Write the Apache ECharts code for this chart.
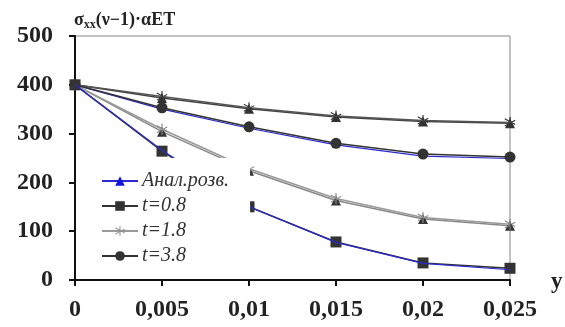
<!DOCTYPE html>
<html>
<head>
<meta charset="utf-8">
<script src="https://cdn.jsdelivr.net/npm/echarts@6/dist/echarts.min.js"></script>
<style>html,body{margin:0;padding:0;background:#fff}#c{width:565px;height:327px}</style>
</head>
<body>
<div id="c"></div>
<script>
var xValues = [0, 0.005, 0.01, 0.015, 0.02, 0.025];
var yTicks = [0, 100, 200, 300, 400, 500];
// analytic solutions (Анал.розв.)
var analBottom = [400, 266, 150, 77, 34, 21];
var analSecond = [400, 350, 311, 277, 254, 249];
var analThird = [400, 304, 224, 163, 125, 111];
var analTop = [400, 373, 351, 334, 325, 321];
// numeric solutions
var t08 = [400, 264, 150, 78, 35, 24];
var t18 = [400, 309, 228, 167, 128, 114];
var t18top = [400, 376, 353, 336, 327, 323];
var t38 = [400, 353, 314, 280, 258, 252];

function pts(arr) { return xValues.map(function (x, i) { return [x, arr[i]]; }); }
var star = 'path://M9,0h2v20h-2z M0.5,4.3l1,-1.7l18,10.4l-1,1.7z M0.5,15.7l1,1.7l18,-10.4l-1,-1.7z';
var serif = 'Liberation Serif';

var chart = echarts.init(document.getElementById('c'));
chart.setOption({
  animation: false,
  grid: { left: 75, right: 55, top: 36, bottom: 47, show: true, borderColor: '#888', borderWidth: 1 },
  title: {
    left: 69, top: 5,
    text: '{a|σ}{s|xx}{a|(ν−1)·αET}',
    textStyle: { rich: {
      a: { fontFamily: serif, fontSize: 18, fontWeight: 'bold', color: '#222' },
      s: { fontFamily: serif, fontSize: 12, fontWeight: 'bold', color: '#222', verticalAlign: 'bottom', padding: [9, 0, 0, 0] }
    } }
  },
  graphic: [{ type: 'text', left: 551, top: 271, style: { text: 'y', font: 'bold 23px "Liberation Serif"', fill: '#222' } }],
  legend: {
    left: 95, top: 158, orient: 'vertical', itemWidth: 36, itemHeight: 12, itemGap: 5,
    backgroundColor: '#fff', padding: [13, 21, 6, 6], z: 20,
    data: ['Анал.розв.', 't=0.8', 't=1.8', 't=3.8'],
    textStyle: { fontFamily: serif, fontSize: 20, fontStyle: 'italic', color: '#333', padding: [0, 0, 0, -1] }
  },
  xAxis: {
    type: 'value', min: 0, max: 0.025, interval: 0.005,
    axisLine: { lineStyle: { color: '#111', width: 2 } },
    axisTick: { length: 6, lineStyle: { color: '#111', width: 2 } },
    splitLine: { show: false },
    axisLabel: { margin: 18, fontFamily: serif, fontSize: 24, fontWeight: 'bold', color: '#222',
      formatter: function (v) { return String(+v.toFixed(3)).replace('.', ','); } }
  },
  yAxis: {
    type: 'value', min: 0, max: 500, interval: 100,
    axisLine: { show: true, lineStyle: { color: '#111', width: 2 } },
    axisTick: { show: true, length: 6, lineStyle: { color: '#111', width: 2 } },
    splitLine: { show: false },
    axisLabel: { margin: 22, fontFamily: serif, fontSize: 24, fontWeight: 'bold', color: '#222',
      formatter: function (v) { return yTicks.indexOf(v) >= 0 ? String(v) : ''; } }
  },
  series: [
    { name: 't=0.8', type: 'line', data: pts(t08), symbol: 'rect', symbolSize: 11,
      lineStyle: { color: '#333', width: 1.5 }, itemStyle: { color: '#333' }, z: 3 },
    { name: 't=1.8', type: 'line', data: pts(t18), symbol: star, symbolSize: 11,
      lineStyle: { color: '#999', width: 1.5 }, itemStyle: { color: '#888' }, z: 3 },
    { name: 't=1.8', type: 'line', data: pts(t18top), symbol: star, symbolSize: 11,
      lineStyle: { color: '#555', width: 1.5 }, itemStyle: { color: '#333' }, z: 3 },
    { name: 't=3.8', type: 'line', data: pts(t38), symbol: 'circle', symbolSize: 11,
      lineStyle: { color: '#333', width: 1.5 }, itemStyle: { color: '#333' }, z: 3 },
    { name: 'Анал.розв.', type: 'line', data: pts(analBottom), symbol: 'triangle', symbolSize: 10, showSymbol: false,
      lineStyle: { color: '#2a2ad0', width: 1.2 }, itemStyle: { color: '#1515e0' }, z: 4 },
    { name: 'Анал.розв.', type: 'line', data: pts(analSecond), symbol: 'triangle', symbolSize: 10, showSymbol: false,
      lineStyle: { color: '#2a2ad0', width: 1.2 }, itemStyle: { color: '#1515e0' }, z: 2 },
    { name: 'Анал.розв.', type: 'line', data: pts(analThird), symbol: 'triangle', symbolSize: 10,
      lineStyle: { color: '#888', width: 1.5 }, itemStyle: { color: '#333' }, z: 2 },
    { name: 'Анал.розв.', type: 'line', data: pts(analTop), symbol: 'triangle', symbolSize: 10,
      lineStyle: { color: '#444', width: 1.5 }, itemStyle: { color: '#333' }, z: 2 }
  ]
});
</script>
</body>
</html>
